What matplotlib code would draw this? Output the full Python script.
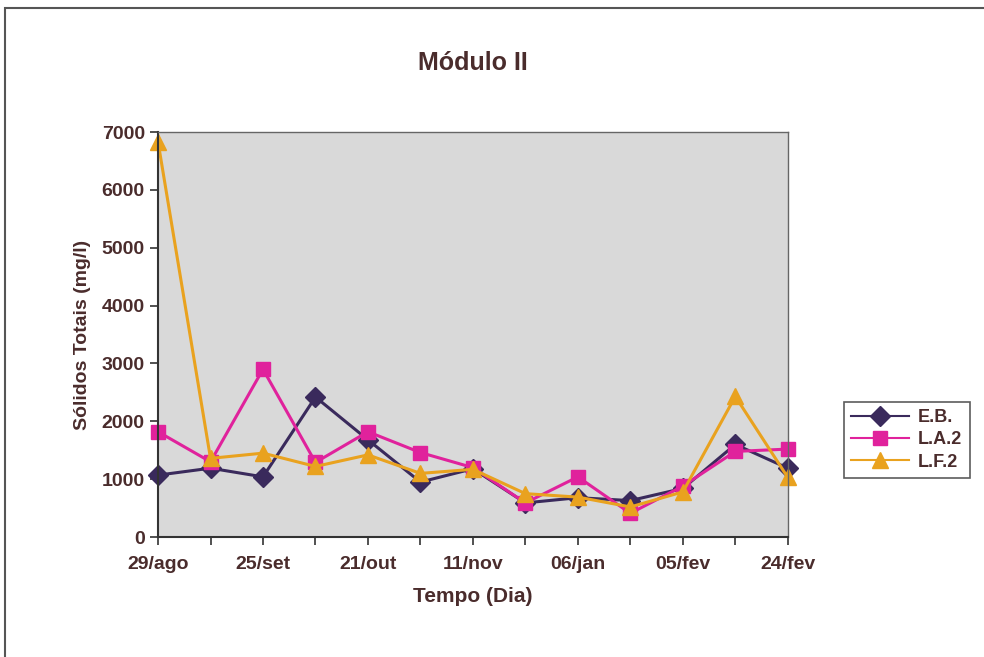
import matplotlib.pyplot as plt
from matplotlib.patches import Rectangle

# 13 sampling days, only every other one labelled on the axis
tick_labels = ['29/ago', '', '25/set', '', '21/out', '', '11/nov', '',
               '06/jan', '', '05/fev', '', '24/fev']

eb = [1070, 1190, 1040, 2420, 1680, 950, 1180, 590, 680, 630, 840, 1600, 1190]
la2 = [1820, 1300, 2900, 1290, 1820, 1460, 1200, 590, 1040, 410, 880, 1480, 1520]
lf2 = [6830, 1360, 1450, 1220, 1420, 1100, 1170, 750, 690, 520, 780, 2430, 1030]

text_color = '#4a2c2c'
plt.rcParams['font.family'] = ['Liberation Sans', 'DejaVu Sans']
plt.rcParams['font.weight'] = 'bold'

fig = plt.figure(figsize=(9.84, 6.57), dpi=100)
ax = fig.add_axes([0.1606, 0.1826, 0.64, 0.6164])

x = list(range(len(tick_labels)))
ax.plot(x, eb, color='#3a2a5c', marker='D', markersize=10, linewidth=2.2, label='E.B.', clip_on=False)
ax.plot(x, la2, color='#e0229c', marker='s', markersize=10, linewidth=2.2, label='L.A.2', clip_on=False)
ax.plot(x, lf2, color='#e9a21f', marker='^', markersize=12, linewidth=2.2, label='L.F.2', clip_on=False)

ax.set_facecolor('#d9d9d9')
ax.set_xlim(0, len(tick_labels) - 1)
ax.set_ylim(0, 7000)
ax.set_yticks(range(0, 7001, 1000))
ax.set_xticks(x)
ax.set_xticklabels(tick_labels)
ax.tick_params(axis='both', colors='#333333', labelcolor=text_color, labelsize=14,
               direction='out', length=6, width=1.2)
ax.tick_params(axis='x', pad=8)
for side in ['left', 'bottom']:
    ax.spines[side].set_color('#333333')
    ax.spines[side].set_linewidth(1.5)
for side in ['top', 'right']:
    ax.spines[side].set_color('#666666')
    ax.spines[side].set_linewidth(1)
    ax.spines[side].set_linestyle((0, (2, 1)))

ax.set_title('Módulo II', fontsize=18, fontweight='bold', color=text_color, pad=45)
ax.set_xlabel('Tempo (Dia)', fontsize=15, fontweight='bold', color=text_color, labelpad=10)
ax.set_ylabel('Sólidos Totais (mg/l)', fontsize=14, fontweight='bold', color=text_color, labelpad=8)

leg = ax.legend(loc='center left', bbox_to_anchor=(1.075, 0.24), frameon=True, fancybox=False,
                fontsize=13, handlelength=3.2, borderpad=0.4, labelspacing=0.3, handletextpad=0.5)
leg.get_frame().set_edgecolor('#333333')
leg.get_frame().set_linewidth(1.2)
for t in leg.get_texts():
    t.set_color(text_color)
for h in leg.legend_handles:
    h.set_linewidth(1.5)

# outer chart border (partly cut off in the scan)
fig.patches.append(Rectangle((0.005, -0.02), 1.2, 1.008, transform=fig.transFigure,
                             fill=False, edgecolor='#555555', linewidth=1.5))

fig.savefig('out.png', dpi=100, facecolor='white')
